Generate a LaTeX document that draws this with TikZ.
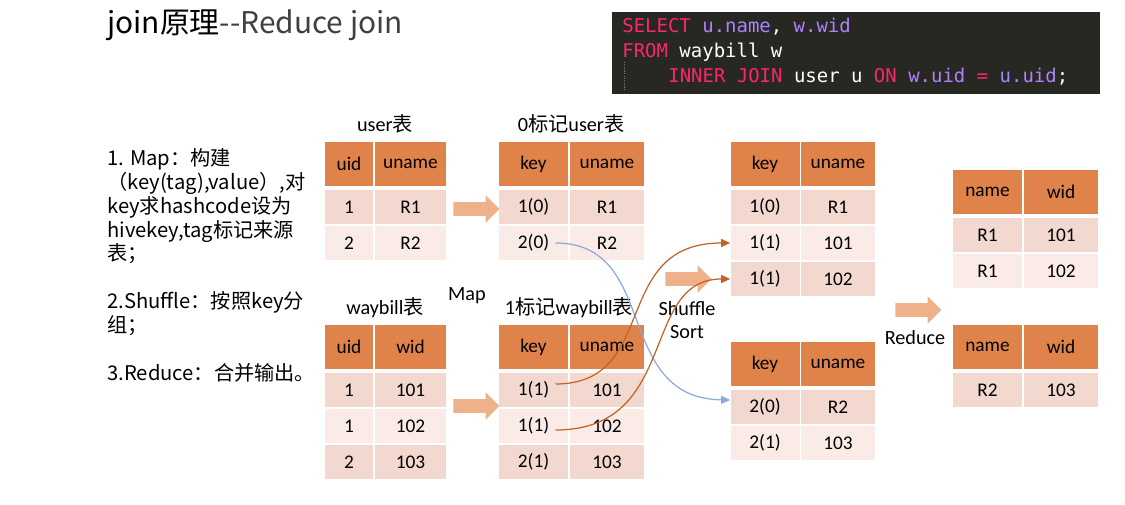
\documentclass[tikz,border=0pt]{standalone}
\usepackage{fontspec}
\setmainfont{Carlito}
\newfontfamily\cjk{Noto Sans CJK SC}
\newfontfamily\sqlfont{DejaVu Sans Mono}
\usetikzlibrary{arrows.meta,shapes.arrows}

\definecolor{hdrorange}{HTML}{E0834A}
\definecolor{rowdark}{HTML}{F3D8CF}
\definecolor{rowlight}{HTML}{FAEBE7}
\definecolor{fatorange}{HTML}{EFB18A}
\definecolor{linkblue}{HTML}{8EA9DB}
\definecolor{linkbrown}{HTML}{C0622A}
\definecolor{sqlbg}{HTML}{272822}
\definecolor{sqlpink}{HTML}{F92672}
\definecolor{sqlpurple}{HTML}{AE81FF}
\definecolor{titlegray}{HTML}{404040}

\begin{document}
\begin{tikzpicture}[x=0.02cm,y=-0.02cm,
    cell/.style={inner sep=0pt,font=\fontsize{11}{12}\selectfont},
    hdr/.style={cell,fill=hdrorange,minimum height=0.88cm},
    oddrow/.style={cell,fill=rowdark,minimum height=0.68cm},
    evenrow/.style={cell,fill=rowlight,minimum height=0.68cm},
    narrowcol/.style={minimum width=0.96cm},
    widecol/.style={minimum width=1.42cm},
    keycol/.style={minimum width=1.38cm},
    namecol/.style={minimum width=1.48cm},
    caption/.style={inner sep=0pt,font=\fontsize{11.5}{13.6}\selectfont},
    fatarrow/.style={single arrow,fill=fatorange,inner sep=0.13cm,
      single arrow head extend=0.14cm,minimum height=0.92cm},
    link/.style={line width=0.7pt,-{Triangle[length=1.8mm,width=1.6mm]}},
    sqltext/.style={inner sep=0pt,text=white,font=\sqlfont\fontsize{10.8}{13}\selectfont}]
  \useasboundingbox (0,0) rectangle (1125,504);

  % title and steps
  \node [anchor=base west,inner sep=0pt,font=\cjk\fontsize{17}{20}\selectfont] (title) at (107,33)
    {join原理\textcolor{titlegray}{-{}-Reduce join}};
  \node [anchor=north west,align=left,inner sep=0pt,font=\cjk\fontsize{11.5}{13.6}\selectfont] (steps) at (107,148)
    {1. Map：构建\\（key(tag),value）,对\\key求hashcode设为\\hivekey,tag标记来源\\表；\\[13.6pt]
     2.Shuffle：按照key分\\组；\\[13.6pt]3.Reduce：合并输出。};

  % sql
  \node [fill=sqlbg,minimum width=9.76cm,minimum height=1.64cm,inner sep=0pt] (sql) at (856,53) {};
  \node [sqltext,anchor=base west] (sql-1) at (622,32)
    {\textcolor{sqlpink}{SELECT} \textcolor{sqlpurple}{u.name}, \textcolor{sqlpurple}{w.wid}};
  \node [sqltext,anchor=base west] (sql-2) at (622,57) {\textcolor{sqlpink}{FROM} waybill w};
  \node [sqltext,anchor=base west] (sql-3) at (668,82)
    {\textcolor{sqlpink}{INNER JOIN} user u \textcolor{sqlpink}{ON} \textcolor{sqlpurple}{w.uid}
     \textcolor{sqlpink}{=} \textcolor{sqlpurple}{u.uid};};
  \draw [gray,densely dotted,line width=0.3pt] (624,62) -- (624,90);

  % source tables
  \node [caption] (user-cap) at (385,124) {user{\cjk 表}};
  \foreach \y/\a/\b/\s [count=\i from 0] in {164/uid/uname/hdr,207/1/R1/oddrow,243/2/R2/evenrow} {
    \node [\s,narrowcol] (user-\i-1) at (349,\y) {\a};
    \node [\s,widecol] (user-\i-2) at (410.5,\y) {\b};
  }
  \node [caption] (bill-cap) at (385,308) {waybill{\cjk 表}};
  \foreach \y/\a/\b/\s [count=\i from 0] in {347/uid/wid/hdr,390/1/101/oddrow,426/1/102/evenrow,462/2/103/oddrow} {
    \node [\s,narrowcol] (bill-\i-1) at (349,\y) {\a};
    \node [\s,widecol] (bill-\i-2) at (410.5,\y) {\b};
  }

  % tagged tables
  \node [caption] (tag0-cap) at (571,124) {0{\cjk 标记}user{\cjk 表}};
  \foreach \y/\a/\b/\s [count=\i from 0] in {164/key/uname/hdr,207/1(0)/R1/oddrow,243/2(0)/R2/evenrow} {
    \node [\s,keycol] (tag0-\i-1) at (533.5,\y) {\a};
    \node [\s,namecol] (tag0-\i-2) at (607,\y) {\b};
  }
  \node [caption] (tag1-cap) at (569,308) {1{\cjk 标记}waybill{\cjk 表}};
  \foreach \y/\a/\b/\s [count=\i from 0] in {347/key/uname/hdr,390/1(1)/101/oddrow,426/1(1)/102/evenrow,462/2(1)/103/oddrow} {
    \node [\s,keycol] (tag1-\i-1) at (533.5,\y) {\a};
    \node [\s,namecol] (tag1-\i-2) at (607,\y) {\b};
  }

  % grouped tables
  \foreach \y/\a/\b/\s [count=\i from 0] in {164/key/uname/hdr,207/1(0)/R1/oddrow,243/1(1)/101/evenrow,279/1(1)/102/oddrow} {
    \node [\s,keycol] (grp1-\i-1) at (765,\y) {\a};
    \node [\s,namecol] (grp1-\i-2) at (838,\y) {\b};
  }
  \foreach \y/\a/\b/\s [count=\i from 0] in {364/key/uname/hdr,407/2(0)/R2/oddrow,443/2(1)/103/evenrow} {
    \node [\s,keycol] (grp2-\i-1) at (765,\y) {\a};
    \node [\s,namecol] (grp2-\i-2) at (838,\y) {\b};
  }

  % output tables
  \foreach \y/\a/\b/\s [count=\i from 0] in {192/name/wid/hdr,235/R1/101/oddrow,271/R1/102/evenrow} {
    \node [\s,keycol] (out1-\i-1) at (987.5,\y) {\a};
    \node [\s,namecol] (out1-\i-2) at (1061,\y) {\b};
  }
  \foreach \y/\a/\b/\s [count=\i from 0] in {347/name/wid/hdr,390/R2/103/oddrow} {
    \node [\s,keycol] (out2-\i-1) at (987.5,\y) {\a};
    \node [\s,namecol] (out2-\i-2) at (1061,\y) {\b};
  }

  % stage arrows and labels
  \node [fatarrow] (map-top) at (473,209) {};
  \node [fatarrow] (map-bot) at (473,406) {};
  \node [fatarrow] (shuffle) at (685,279) {};
  \node [fatarrow] (reduce) at (915,310) {};
  \node [caption] (map-lbl) at (467,296) {Map};
  \node [caption,align=center] (shuffle-lbl) at (687,320) {Shuffle\\Sort};
  \node [caption] (reduce-lbl) at (915,338) {Reduce};

  % shuffle links
  \draw [link,linkblue] ([xshift=0.44cm]tag0-2-1.center)
    .. controls +(105,0) and +(-118,-2) .. ([yshift=0.14cm]grp2-1-1.west);
  \draw [link,linkbrown] ([xshift=0.44cm,yshift=0.12cm]tag1-1-1.center)
    .. controls +(105,0) and +(-121,0) .. (grp1-2-1.west);
  \draw [link,linkbrown] ([xshift=0.44cm,yshift=-0.08cm]tag1-2-1.center)
    .. controls +(125,0) and +(-91,0) .. (grp1-3-1.west);
\end{tikzpicture}
\end{document}
